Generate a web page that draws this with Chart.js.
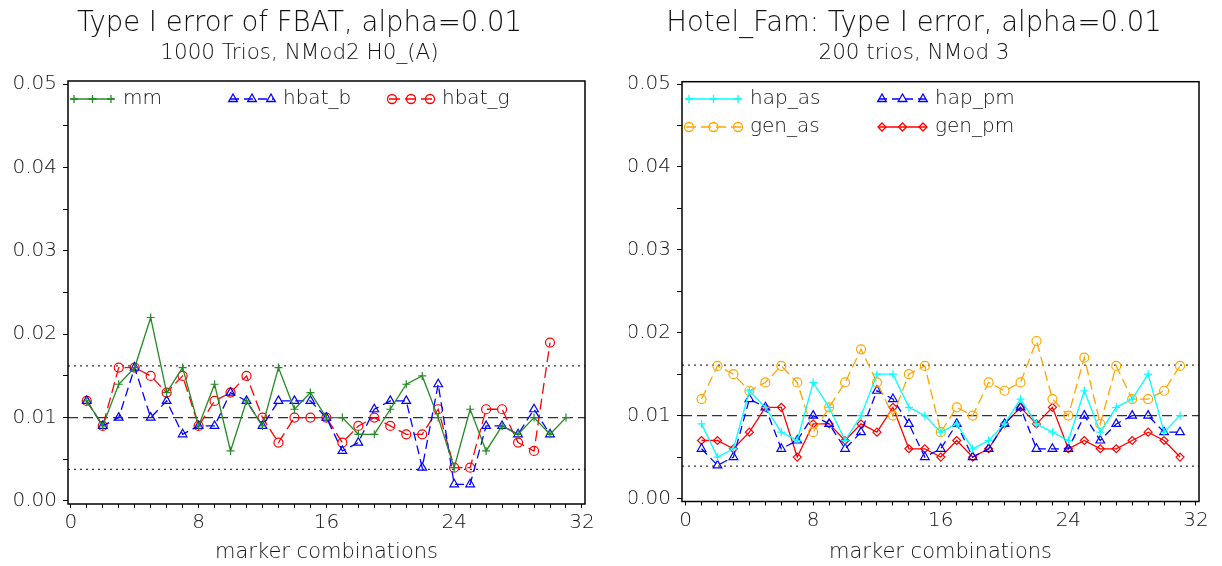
<!DOCTYPE html>
<html>
<head>
<meta charset="utf-8">
<script src="https://cdn.jsdelivr.net/npm/chart.js@4/dist/chart.umd.min.js"></script>
<style>
  html, body { margin: 0; padding: 0; background: #fff; }
  .wrap { position: relative; width: 1222px; height: 566px; }
  .panel { position: absolute; top: 0; width: 611px; height: 566px; }
</style>
</head>
<body>
<div class="wrap">
  <div class="panel" style="left:0"><canvas id="fbatChart"></canvas></div>
  <div class="panel" style="left:611px"><canvas id="hotelChart"></canvas></div>
</div>
<script>
// marker combination index (x axis)
const combos = [1, 2, 3, 4, 5, 6, 7, 8, 9, 10, 11, 12, 13, 14, 15, 16,
                17, 18, 19, 20, 21, 22, 23, 24, 25, 26, 27, 28, 29, 30, 31];

// FBAT, 1000 trios
const mm     = [0.012, 0.009, 0.014, 0.016, 0.022, 0.013, 0.016, 0.009, 0.014, 0.006, 0.012, 0.009, 0.016, 0.011, 0.013, 0.010,
                0.010, 0.008, 0.008, 0.011, 0.014, 0.015, 0.010, 0.004, 0.011, 0.006, 0.009, 0.008, 0.010, 0.008, 0.010];
const hbat_b = [0.012, 0.009, 0.010, 0.016, 0.010, 0.012, 0.008, 0.009, 0.009, 0.013, 0.012, 0.009, 0.012, 0.012, 0.012, 0.010,
                0.006, 0.007, 0.011, 0.012, 0.012, 0.004, 0.014, 0.002, 0.002, 0.009, 0.009, 0.008, 0.011, 0.008];
const hbat_g = [0.012, 0.009, 0.016, 0.016, 0.015, 0.013, 0.015, 0.009, 0.012, 0.013, 0.015, 0.010, 0.007, 0.010, 0.010, 0.010,
                0.007, 0.009, 0.010, 0.009, 0.008, 0.008, 0.011, 0.004, 0.004, 0.011, 0.011, 0.007, 0.006, 0.019];

// Hotel_Fam, 200 trios
const hap_as = [0.009, 0.005, 0.006, 0.013, 0.011, 0.008, 0.007, 0.014, 0.011, 0.007, 0.010, 0.015, 0.015, 0.011, 0.010, 0.008,
                0.009, 0.006, 0.007, 0.009, 0.012, 0.009, 0.008, 0.007, 0.013, 0.008, 0.011, 0.012, 0.015, 0.008, 0.010];
const gen_as = [0.012, 0.016, 0.015, 0.013, 0.014, 0.016, 0.014, 0.008, 0.011, 0.014, 0.018, 0.014, 0.010, 0.015, 0.016, 0.008,
                0.011, 0.010, 0.014, 0.013, 0.014, 0.019, 0.012, 0.010, 0.017, 0.009, 0.016, 0.012, 0.012, 0.013, 0.016];
const hap_pm = [0.006, 0.004, 0.005, 0.012, 0.011, 0.006, 0.007, 0.010, 0.009, 0.006, 0.008, 0.013, 0.012, 0.009, 0.005, 0.006,
                0.009, 0.005, 0.006, 0.009, 0.011, 0.006, 0.006, 0.006, 0.010, 0.007, 0.009, 0.010, 0.010, 0.008, 0.008];
const gen_pm = [0.007, 0.007, 0.006, 0.008, 0.011, 0.011, 0.005, 0.009, 0.009, 0.007, 0.009, 0.008, 0.011, 0.006, 0.006, 0.005,
                0.007, 0.005, 0.006, 0.009, 0.011, 0.009, 0.011, 0.006, 0.007, 0.006, 0.006, 0.007, 0.008, 0.007, 0.005];

// axis ticks
const xLabelTicks = [0, 8, 16, 24, 32];
const yTicks = [0, 0.005, 0.01, 0.015, 0.02, 0.025, 0.03, 0.035, 0.04, 0.045, 0.05];

// nominal level and its binomial band
const alphaLevel = 0.01;
const fbatBand = [0.0038, 0.0162];
const hotelBand = [0.0039, 0.0161];

const FONT = '"DejaVu Sans", sans-serif';
Chart.defaults.font.family = FONT;
Chart.defaults.font.weight = '200';
Chart.defaults.color = '#111';

const points = (ys) => ys.map((v, i) => ({ x: combos[i], y: v }));

function series(label, ys, color, style, radius, dash) {
  return {
    label: label,
    data: points(ys),
    borderColor: color,
    borderWidth: 1.3,
    borderDash: dash,
    pointStyle: style,
    pointRadius: radius,
    pointBorderWidth: 1.2,
    pointBorderColor: color,
    pointBackgroundColor: 'rgba(0,0,0,0)',
    tension: 0,
    fill: false
  };
}

// box around the plot area plus the horizontal reference lines
const frameLines = {
  id: 'frameLines',
  beforeDatasetsDraw(chart, args, opts) {
    const { ctx, chartArea: a, scales: { y } } = chart;
    ctx.save();
    ctx.strokeStyle = '#333';
    ctx.lineWidth = 1.3;
    opts.lines.forEach(l => {
      const py = y.getPixelForValue(l.value);
      ctx.setLineDash(l.dash);
      ctx.beginPath();
      ctx.moveTo(a.left, py);
      ctx.lineTo(a.right, py);
      ctx.stroke();
    });
    ctx.restore();
  },
  afterDraw(chart) {
    const { ctx, chartArea: a } = chart;
    ctx.save();
    ctx.strokeStyle = '#000';
    ctx.lineWidth = 1.5;
    ctx.strokeRect(a.left, a.top, a.right - a.left, a.bottom - a.top);
    ctx.restore();
  }
};

// legend with three symbols on a short line, like the plot's own series
const sampleLegend = {
  id: 'sampleLegend',
  afterDraw(chart, args, opts) {
    const ctx = chart.ctx;
    opts.items.forEach(item => {
      const ds = chart.data.datasets[item.dataset];
      ctx.save();
      ctx.strokeStyle = ds.borderColor;
      ctx.fillStyle = 'rgba(0,0,0,0)';
      ctx.lineWidth = ds.borderWidth;
      ctx.setLineDash(ds.borderDash || []);
      ctx.beginPath();
      ctx.moveTo(item.x, item.y);
      ctx.lineTo(item.x + item.w, item.y);
      ctx.stroke();
      ctx.setLineDash([]);
      [item.x + 3, item.x + item.w / 2, item.x + item.w - 3].forEach(px => {
        Chart.helpers.drawPoint(ctx, {
          pointStyle: ds.pointStyle, rotation: 0,
          radius: ds.pointRadius, borderWidth: ds.pointBorderWidth
        }, px, item.y);
      });
      ctx.fillStyle = '#111';
      ctx.font = '200 20px ' + FONT;
      ctx.textBaseline = 'middle';
      ctx.fillText(ds.label, item.x + item.w + 9, item.y);
      ctx.restore();
    });
  }
};

function makeOptions(cfg) {
  return {
    responsive: true,
    maintainAspectRatio: false,
    animation: false,
    events: [],
    layout: { padding: { left: cfg.padLeft, right: cfg.padRight, top: 0, bottom: 0 } },
    scales: {
      x: {
        type: 'linear',
        min: cfg.xMin, max: 32.19,
        afterBuildTicks: s => { s.ticks = Array.from({ length: 33 }, (_, i) => ({ value: i })); },
        afterFit: s => { s.height = cfg.xHeight; },
        ticks: {
          autoSkip: false, maxRotation: 0, padding: 3,
          font: { size: 20 },
          callback: v => (xLabelTicks.includes(v) ? String(v) : '')
        },
        grid: { drawOnChartArea: false, drawTicks: true, tickLength: 4, color: '#000', lineWidth: 1 },
        border: { display: false },
        title: { display: true, text: 'marker combinations', font: { size: 21 }, padding: { top: 0, bottom: 1 } }
      },
      y: {
        min: -0.00036, max: cfg.yMax,
        afterBuildTicks: s => { s.ticks = yTicks.map(v => ({ value: v })); },
        afterFit: s => { s.width = cfg.yWidth; },
        ticks: {
          autoSkip: false, padding: 6,
          font: { size: 20 },
          callback: v => (Math.round(v * 1000) % 10 === 0 ? v.toFixed(2) : '')
        },
        grid: { drawOnChartArea: false, drawTicks: true, tickLength: 5, color: '#000', lineWidth: 1 },
        border: { display: false }
      }
    },
    plugins: {
      legend: { display: false },
      tooltip: { enabled: false },
      title: {
        display: true, text: cfg.title,
        font: { size: 27.5, weight: '200' }, color: '#111',
        padding: { top: 7, bottom: 0 }
      },
      subtitle: {
        display: true, text: cfg.subtitle,
        font: { size: 21.5, weight: '200' }, color: '#111',
        padding: { top: 1, bottom: cfg.subPadBottom }
      },
      frameLines: {
        lines: [
          { value: alphaLevel, dash: [10, 5] },
          { value: cfg.band[0], dash: [2, 4] },
          { value: cfg.band[1], dash: [2, 4] }
        ]
      },
      sampleLegend: { items: cfg.legend }
    }
  };
}

new Chart(document.getElementById('fbatChart'), {
  type: 'line',
  data: {
    datasets: [
      series('mm', mm, '#258a25', 'cross', 4, []),
      series('hbat_b', hbat_b, '#0000ff', 'triangle', 5, [9, 5]),
      series('hbat_g', hbat_g, '#ff0000', 'circle', 4.5, [11, 5])
    ]
  },
  options: makeOptions({
    title: 'Type I error of FBAT, alpha=0.01',
    subtitle: '1000 Trios, NMod2 H0_(A)',
    padLeft: 14, padRight: 26, yWidth: 54, xHeight: 62, subPadBottom: 14.2,
    xMin: -0.175, yMax: 0.05036,
    band: fbatBand,
    legend: [
      { dataset: 0, x: 71, y: 99, w: 43 },
      { dataset: 1, x: 230, y: 99, w: 44 },
      { dataset: 2, x: 389, y: 99, w: 44 }
    ]
  }),
  plugins: [frameLines, sampleLegend]
});

new Chart(document.getElementById('hotelChart'), {
  type: 'line',
  data: {
    datasets: [
      series('hap_as', hap_as, '#00ffff', 'cross', 4, []),
      series('gen_as', gen_as, '#ffa500', 'circle', 4.5, [10, 5]),
      series('hap_pm', hap_pm, '#0000ff', 'triangle', 5, [8, 5]),
      series('gen_pm', gen_pm, '#ff0000', 'rectRot', 4, [])
    ]
  },
  options: makeOptions({
    title: 'Hotel_Fam: Type I error, alpha=0.01',
    subtitle: '200 trios, NMod 3',
    padLeft: 18, padRight: 23, yWidth: 53, xHeight: 64.5, subPadBottom: 14.9,
    xMin: -0.225, yMax: 0.05028,
    band: hotelBand,
    legend: [
      { dataset: 0, x: 75, y: 99, w: 55 },
      { dataset: 1, x: 75, y: 127, w: 55 },
      { dataset: 2, x: 268, y: 99, w: 47 },
      { dataset: 3, x: 268, y: 127, w: 47 }
    ]
  }),
  plugins: [frameLines, sampleLegend]
});
</script>
</body>
</html>
